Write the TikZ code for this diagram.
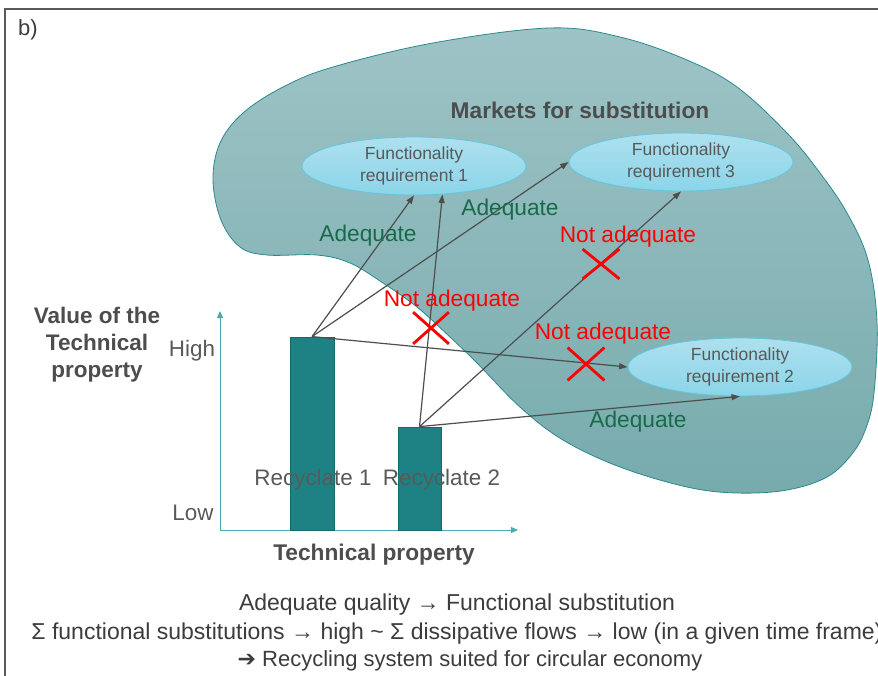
\documentclass[tikz,border=0pt]{standalone}
\usepackage{fontspec}
\setmainfont{Liberation Sans}
\newfontfamily\symfont{DejaVu Sans}
\usetikzlibrary{shapes.geometric,shapes.misc,arrows.meta}

\definecolor{framegray}{HTML}{5A5A5A}
\definecolor{blobtop}{HTML}{9EC3C6}
\definecolor{blobbot}{HTML}{77ABAD}
\definecolor{blobedge}{HTML}{2A8A8E}
\definecolor{elltop}{HTML}{AEE0EE}
\definecolor{ellbot}{HTML}{8BD5E9}
\definecolor{elledge}{HTML}{62C6DE}
\definecolor{barfill}{HTML}{1E8285}
\definecolor{baredge}{HTML}{176A6C}
\definecolor{axisc}{HTML}{4DAAAD}
\definecolor{arrowc}{HTML}{4E4E4E}
\definecolor{txtgray}{HTML}{595959}
\definecolor{boldgray}{HTML}{4D4D4D}
\definecolor{okgreen}{HTML}{186B4A}
\definecolor{badred}{HTML}{FF0000}
\definecolor{notegray}{HTML}{3C3C3C}

\newcommand{\fsz}[1]{\fontsize{#1}{1.22\dimexpr #1pt\relax}\selectfont}

\tikzset{
  blobshape/.style={draw=blobedge, line width=0.8pt, top color=blobtop, bottom color=blobbot},
  market/.style={ellipse, draw=elledge, line width=0.8pt, top color=elltop, bottom color=ellbot,
    minimum width=224pt, minimum height=58pt, inner sep=0pt, align=center,
    text=txtgray, font=\fsz{17.5}},
  barbox/.style={rectangle, draw=baredge, line width=0.8pt, fill=barfill, inner sep=0pt},
  axisline/.style={draw=axisc, line width=0.9pt, -{Triangle[length=7pt,width=6pt]}},
  link/.style={draw=arrowc, line width=1.2pt, -{Triangle[length=8.5pt,width=6pt]}},
  oklabel/.style={text=okgreen, font=\fsz{22.7}, inner sep=0pt},
  badlabel/.style={text=badred, font=\fsz{22.7}, inner sep=0pt},
  badmark/.style={cross out, draw=badred, line width=2.8pt, inner sep=0pt},
  headlabel/.style={text=boldgray, font=\bfseries\fsz{22.7}, inner sep=0pt, align=center},
  plainlabel/.style={text=txtgray, font=\fsz{22.4}, inner sep=0pt},
  notelabel/.style={text=notegray, font=\fsz{23}, inner sep=0pt}
}

\begin{document}
\begin{tikzpicture}[x=1pt,y=-1pt]
\useasboundingbox (0,0) rectangle (878,675);
\clip (0,0) rectangle (878,675);
\fill[white] (0,0) rectangle (878,675);

% panel frame
\draw[framegray, line width=1.5pt] (5,700) -- (5,9) -- (900,9);
\node[text=notegray, font=\fsz{22}, inner sep=0pt] (panel) at (28,30) {b)};

% market region
\path[blobshape] plot[smooth cycle, tension=0.6] coordinates {
  (549,28) (620,37) (687,60) (737,87) (787,133) (820,173) (847,213) (868,260)
  (877,322) (874,393) (866,428) (852,454) (827,477) (787,490) (737,493)
  (687,487) (620,467) (563,440) (520,407) (477,363) (450,337) (417,307)
  (383,283) (350,263) (317,255) (267,255) (240,247) (221,220) (213,180)
  (220,143) (243,113) (283,87) (333,67) (433,43)};

\node[headlabel] (markets) at (580,110) {Markets for substitution};

% axes
\coordinate (origin) at (220,530);
\coordinate (ytop) at (220,311);
\coordinate (xend) at (518,530);
\draw[axisline] (origin) -- (ytop);
\draw[axisline] (origin) -- (xend);

\node[headlabel, font=\bfseries\fsz{22.5}, text depth=0pt] (ylab) at (97,342)
  {Value of the\\[-0.6pt]Technical\\[-0.6pt]property};
\node[plainlabel] (high) at (192,351) {High};
\node[plainlabel] (low) at (193,513) {Low};
\node[headlabel] (xlab) at (374,555) {Technical property};

% recyclate bars
\node[barbox, minimum width=44pt, minimum height=193pt] (bar1) at (312,433.5) {};
\node[barbox, minimum width=43pt, minimum height=103pt] (bar2) at (419.5,478.5) {};

% functionality requirements
\node[market] (fr1) at (414,166) {Functionality\\requirement 1};
\node[market] (fr3) at (681,162) {Functionality\\requirement 3};
\node[market] (fr2) at (740,367) {Functionality\\requirement 2};

% substitution links
\draw[link] (bar1.north) -- (fr1.south);
\draw[link] (bar1.north) -- (fr3.west);
\draw[link] (bar1.north) -- (fr2.west);
\draw[link] (bar2.north) -- (fr1.-45);
\draw[link] (bar2.north) -- (fr3.south);
\draw[link] (bar2.north) -- (fr2.south);

\node[plainlabel] (rec1) at (313,480) {Recyclate 1};
\node[plainlabel] (rec2) at (441.5,480) {Recyclate 2};

% link verdicts
\node[oklabel] (ok1) at (368,236) {Adequate};
\node[oklabel] (ok2) at (510,210) {Adequate};
\node[oklabel] (ok3) at (638,422) {Adequate};
\node[badlabel] (no1) at (452,301) {Not adequate};
\node[badlabel] (no2) at (628,237) {Not adequate};
\node[badlabel] (no3) at (603,334) {Not adequate};

\node[badmark, minimum width=33pt, minimum height=29pt] (x1) at (431,328) {};
\node[badmark, minimum width=34pt, minimum height=27pt] (x2) at (601,264) {};
\node[badmark, minimum width=34pt, minimum height=30pt] (x3) at (586,364) {};

% conclusions
\node[notelabel] (note1) at (457,605) {Adequate quality → Functional substitution};
\node[notelabel] (note2) at (457,634) {Σ functional substitutions → high \textasciitilde{} Σ dissipative flows → low (in a given time frame)};
\node[notelabel, font=\fsz{22}] (note3) at (470,661) {{\symfont ➔} Recycling system suited for circular economy};
\end{tikzpicture}
\end{document}
